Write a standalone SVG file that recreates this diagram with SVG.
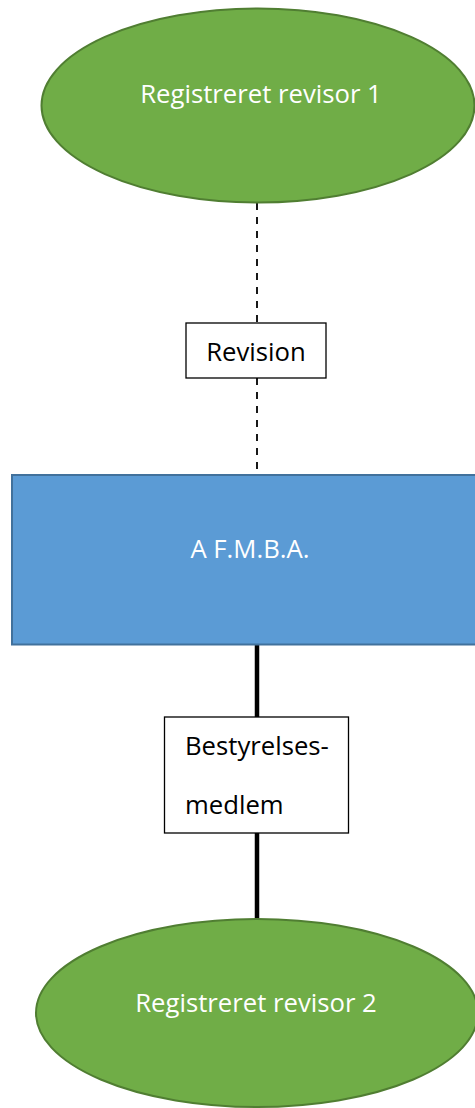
<svg xmlns="http://www.w3.org/2000/svg" width="475" height="1108" viewBox="0 0 475 1108">
<style>
.oval{fill:#70AD47;stroke:#507E32;stroke-width:2}
.main{fill:#5B9BD5;stroke:#41719C;stroke-width:2}
.label{fill:#FFFFFF;stroke:#000000;stroke-width:1.3}
.wt{font-family:"Open Sans","Liberation Sans",sans-serif;font-size:25.7px;fill:#FFFFFF}
.bt{font-family:"Open Sans","Liberation Sans",sans-serif;font-size:25.7px;fill:#000000}
.dash{stroke:#000000;stroke-width:1.8;stroke-dasharray:7 7}
.solid{stroke:#000000;stroke-width:4.5}
</style>
<rect width="475" height="1108" fill="#FFFFFF"/>
<g id="connectors">
<line class="dash" x1="257" y1="203" x2="257" y2="323"/>
<line class="dash" x1="257" y1="378" x2="257" y2="474"/>
<line class="solid" x1="257" y1="645" x2="257" y2="717"/>
<line class="solid" x1="257" y1="833" x2="257" y2="920"/>
</g>
<g id="revisor1">
<ellipse class="oval" cx="258" cy="105.5" rx="216.5" ry="97"/>
<text class="wt" x="261" y="103" text-anchor="middle">Registreret revisor 1</text>
</g>
<g id="revision">
<rect class="label" x="186" y="323" width="140" height="55"/>
<text class="bt" x="256" y="361" text-anchor="middle">Revision</text>
</g>
<g id="afmba">
<rect class="main" x="12" y="475" width="480" height="169.5"/>
<text class="wt" x="250" y="557.5" text-anchor="middle">A F.M.B.A.</text>
</g>
<g id="bestyrelse">
<rect class="label" x="164.5" y="717" width="184" height="116"/>
<text class="bt" x="185" y="755">Bestyrelses-</text>
<text class="bt" x="185" y="814">medlem</text>
</g>
<g id="revisor2">
<ellipse class="oval" cx="257" cy="1013" rx="221" ry="94"/>
<text class="wt" x="256" y="1011.5" text-anchor="middle">Registreret revisor 2</text>
</g>
</svg>
